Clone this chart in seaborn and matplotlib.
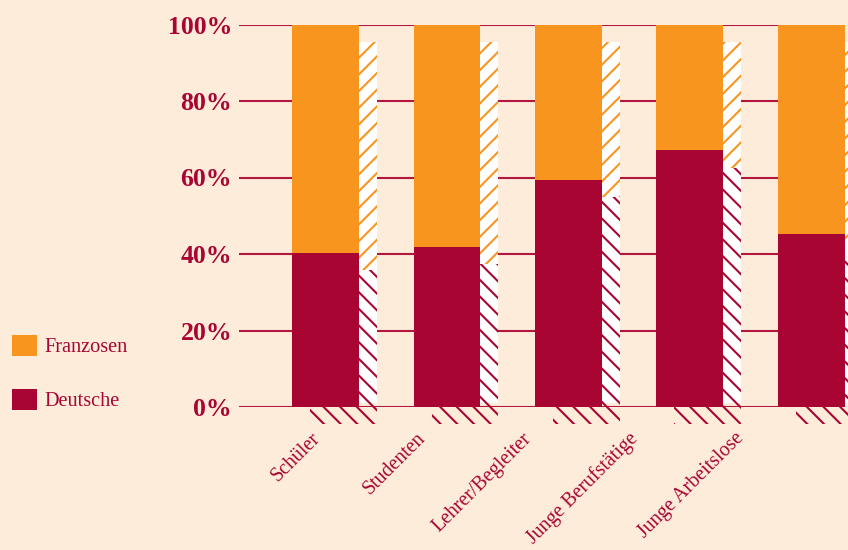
import matplotlib
matplotlib.use("Agg")
import matplotlib.pyplot as plt
import seaborn as sns
import pandas as pd
import numpy as np
from matplotlib.patches import Patch

# ---- data ----
categories = ["Schüler", "Studenten", "Lehrer/Begleiter", "Junge Berufstätige", "Junge Arbeitslose"]
deutsche = [40.2, 41.8, 59.3, 67.1, 45.2]
franzosen = [59.8, 58.2, 40.7, 32.9, 54.8]
yticks = [0, 20, 40, 60, 80, 100]
ytick_labels = ["0%", "20%", "40%", "60%", "80%", "100%"]
legend_labels = ["Franzosen", "Deutsche"]

# ---- style ----
BG = "#FDECD9"
ORANGE = "#F7951F"
RED = "#A80533"
TXT = "#A80533"
GRID = "#B3163F"

plt.rcParams["hatch.linewidth"] = 1.5
serif = ["Liberation Serif", "DejaVu Serif"]

df = pd.DataFrame({"cat": categories, "de": deutsche, "fr": franzosen})
df["total"] = df["de"] + df["fr"]

fig = plt.figure(figsize=(8.48, 5.5), dpi=100, facecolor=BG)
ax = fig.add_axes([239 / 848, 1 - 407 / 550, (815 - 239) / 848, (407 - 24.5) / 550])
ax.set_facecolor(BG)

W = 0.55
OFF_X = 0.148
OFF_Y = 4.5

# shadow (hatched) bars
xs = np.arange(len(categories))
ax.bar(xs + OFF_X, df["total"] - OFF_Y - 1, bottom=1, width=W, color="white",
       linewidth=0, zorder=1, clip_on=False)
ax.bar(xs + OFF_X, df["de"], bottom=-OFF_Y, width=W, facecolor="none",
       edgecolor=RED, hatch="\\\\", linewidth=0, zorder=1.5, clip_on=False)
ax.bar(xs + OFF_X, df["fr"], bottom=df["de"] - OFF_Y, width=W, facecolor="none",
       edgecolor=ORANGE, hatch="//", linewidth=0, zorder=1.5, clip_on=False)

# main stacked bars
sns.barplot(data=df, x="cat", y="total", color=ORANGE, saturation=1, width=W,
            linewidth=0, ax=ax, zorder=2, clip_on=False, errorbar=None)
sns.barplot(data=df, x="cat", y="de", color=RED, saturation=1, width=W,
            linewidth=0, ax=ax, zorder=2.1, clip_on=False, errorbar=None)

ax.set_xlim(-0.712, 4.03)
ax.set_ylim(0, 100)
ax.set_yticks(yticks)
ax.set_yticklabels(ytick_labels, fontfamily=serif, fontweight="bold",
                   fontsize=18.5, color=TXT)
ax.yaxis.grid(True, color=GRID, linewidth=1.5)
ax.xaxis.grid(False)
ax.set_axisbelow(True)
for s in ax.spines.values():
    s.set_visible(False)
ax.tick_params(axis="y", length=0, pad=5)
ax.tick_params(axis="x", length=0, pad=16)
ax.set_xlabel("")
ax.set_ylabel("")
# category labels sit on a slightly tighter spacing than the bars
label_pos = xs * 0.873 - 0.125
ax.set_xticks(label_pos)
ax.set_xticklabels(categories, rotation=45, ha="right", rotation_mode="anchor",
                   fontfamily=serif, fontsize=14.3, color=TXT)

handles = [Patch(facecolor=ORANGE, edgecolor="none"), Patch(facecolor=RED, edgecolor="none")]
fig.legend(handles, legend_labels, loc="upper left", bbox_to_anchor=(12 / 848, 1 - 335 / 550),
           frameon=False, prop={"family": serif, "size": 14.6}, labelcolor=TXT,
           handlelength=1.22, handleheight=1.22, labelspacing=1.55, handletextpad=0.38,
           borderaxespad=0, borderpad=0)

fig.savefig("out.png", dpi=100, facecolor=BG)
